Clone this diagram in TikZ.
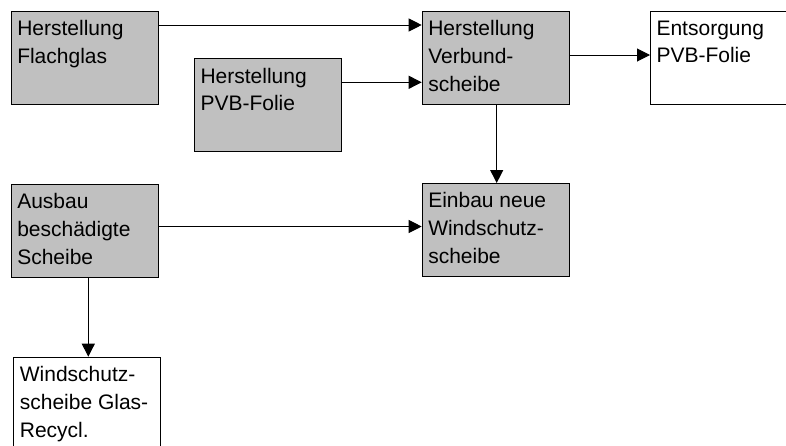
\documentclass[tikz,border=0pt]{standalone}
\usepackage{fontspec}
\setmainfont{Liberation Sans}
\usetikzlibrary{arrows.meta}
\definecolor{boxgray}{HTML}{C0C0C0}
\newcommand{\boxtext}[1]{\begin{minipage}[t][93pt][t]{147pt}\fontsize{21pt}{27.7pt}\selectfont\raggedright\leftskip=6pt\vspace*{9.2pt}#1\end{minipage}}
\begin{document}
\begin{tikzpicture}[x=1pt,y=-1pt]
\useasboundingbox (0,0) rectangle (786,445);
\clip (0,0) rectangle (786,445);
\tikzset{
  box/.style={draw=black, line width=1.1pt, fill=boxgray, anchor=north west, inner sep=0pt, minimum width=147pt, minimum height=93pt},
  wbox/.style={box, fill=white},
  arr/.style={line width=1pt, -{Triangle[length=13pt,width=13pt]}}
}
\node[box] (flach) at (10.7,10.7) {\boxtext{Herstellung\\Flachglas}};
\node[box] (pvb) at (194,58.3) {\boxtext{Herstellung\\PVB-Folie}};
\node[box] (verbund) at (421.7,11) {\boxtext{Herstellung\\Verbund-\\scheibe}};
\node[wbox] (entsorg) at (650,11) {\boxtext{Entsorgung\\PVB-Folie}};
\node[box] (ausbau) at (10.7,184) {\boxtext{Ausbau\\beschädigte\\Scheibe}};
\node[box] (einbau) at (421.7,183) {\boxtext{Einbau neue\\Windschutz-\\scheibe}};
\node[wbox] (recycl) at (13.3,356.7) {\boxtext{Windschutz-\\scheibe Glas-\\Recycl.}};
\draw[arr] ([yshift=-14.3pt]flach.north east) -- ([yshift=-14pt]verbund.north west);
\draw[arr] ([yshift=-24pt]pvb.north east) -- ([yshift=-71.3pt]verbund.north west);
\draw[arr] ([yshift=-44pt]verbund.north east) -- ([yshift=-44pt]entsorg.north west);
\draw[arr] ([xshift=75pt]verbund.south west) -- ([xshift=75pt]einbau.north west);
\draw[arr] ([yshift=-42.5pt]ausbau.north east) -- ([yshift=-43.5pt]einbau.north west);
\draw[arr] ([xshift=77.6pt]ausbau.south west) -- ([xshift=75pt]recycl.north west);
\end{tikzpicture}
\end{document}
